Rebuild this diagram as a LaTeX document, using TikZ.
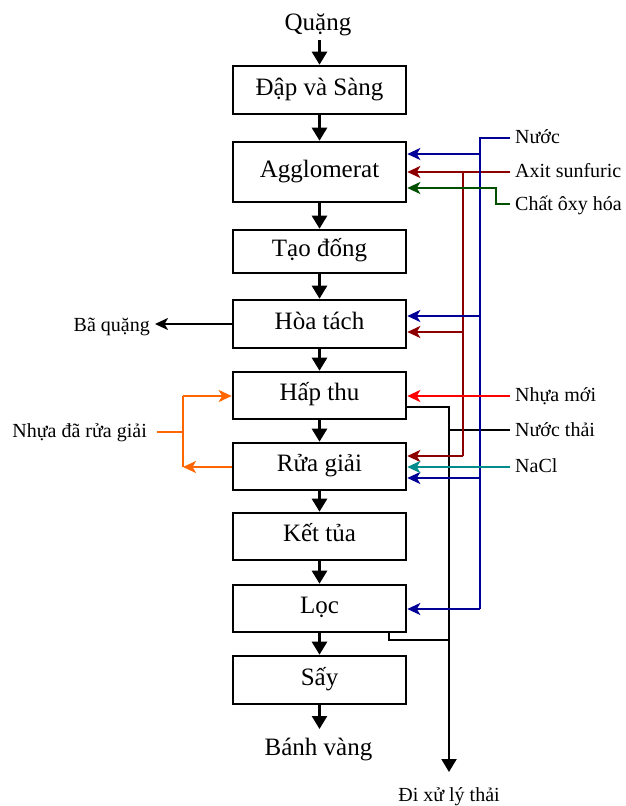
\documentclass[tikz,border=0pt]{standalone}
\usepackage{fontspec}
\setmainfont{Liberation Serif}
\usetikzlibrary{arrows.meta}
\definecolor{cNuoc}{RGB}{0,0,150}
\definecolor{cAxit}{RGB}{140,0,0}
\definecolor{cOxy}{RGB}{0,80,0}
\definecolor{cNhua}{RGB}{255,0,0}
\definecolor{cNaCl}{RGB}{0,140,140}
\definecolor{cCam}{RGB}{255,102,0}
\begin{document}
\begin{tikzpicture}[x=1pt,y=-1pt,
  box/.style={draw,line width=2.6pt,minimum width=173pt,inner sep=0pt,
    font=\fontsize{25}{28}\selectfont,text height=15pt,text depth=5pt},
  big/.style={font=\fontsize{25}{28}\selectfont,inner sep=2pt},
  lab/.style={font=\fontsize{20}{24}\selectfont,inner sep=2pt},
  flow/.style={line width=2.6pt,-{Triangle[length=13pt,width=15pt]}},
  feed/.style={line width=2.2pt,-{Stealth[length=13pt,width=12pt,inset=3.5pt]}},
  ln/.style={line width=2.2pt}]
\useasboundingbox (0,0) rectangle (626,806);

% main boxes
\node[box,minimum height=48pt] (b1) at (319.5,90) {Đập và Sàng};
\node[box,minimum height=60pt] (b2) at (319.5,172) {Agglomerat};
\node[box,minimum height=43pt] (b3) at (319.5,251.5) {Tạo đống};
\node[box,minimum height=48pt] (b4) at (319.5,324) {Hòa tách};
\node[box,minimum height=47pt] (b5) at (319.5,395.5) {Hấp thu};
\node[box,minimum height=47pt] (b6) at (319.5,466.5) {Rửa giải};
\node[box,minimum height=47pt] (b7) at (319.5,536.5) {Kết tủa};
\node[box,minimum height=47pt] (b8) at (319.5,608.5) {Lọc};
\node[box,minimum height=48pt] (b9) at (319.5,680) {Sấy};

% top / bottom texts
\node[big,anchor=base] (q) at (318,30) {Quặng};
\node[big,anchor=base] (bv) at (318.5,755) {Bánh vàng};

% side labels
\node[lab,anchor=base west] (nuoc) at (513,143) {Nước};
\node[lab,anchor=base west] (axit) at (513,177) {Axit sunfuric};
\node[lab,anchor=base west] (oxy) at (513,210) {Chất ôxy hóa};
\node[lab,anchor=base west] (nm) at (513,401) {Nhựa mới};
\node[lab,anchor=base west] (nt) at (513,436) {Nước thải};
\node[lab,anchor=base west] (nacl) at (513,472) {NaCl};
\node[lab,anchor=base east] (bq) at (152,331) {Bã quặng};
\node[lab,anchor=base east] (nd) at (149,437) {Nhựa đã rửa giải};
\node[lab,anchor=base] (dx) at (449,801) {Đi xử lý thải};

% junction coordinates
\coordinate (nuocE) at (510,138);
\coordinate (axitE) at (510,172);
\coordinate (oxyE) at (510,204);
\coordinate (nmE) at (510,396);
\coordinate (ntE) at (510,430);
\coordinate (naclE) at (510,467);
\coordinate (ndE) at (157,432);

% main flow
\draw[flow] (b1.north |- 0,40) -- (b1.north);
\draw[flow] (b1) -- (b2);
\draw[flow] (b2) -- (b3);
\draw[flow] (b3) -- (b4);
\draw[flow] (b4) -- (b5);
\draw[flow] (b5) -- (b6);
\draw[flow] (b6) -- (b7);
\draw[flow] (b7) -- (b8);
\draw[flow] (b8) -- (b9);
\draw[flow] (b9.south) -- (b9.south |- 0,729);

% waste line (black)
\draw[ln] (b5.east |- 0,407) -- (449,407) -- (449,640);
\draw[flow,line width=2.2pt] (449,640) -- (449,772);
\draw[ln] (ntE) -- (449,430);
\draw[ln] (b8.south -| 389,0) -- (389,640) -- (449,640);

% dark red: sulfuric acid
\draw[ln,cAxit] (463,172) -- (463,456);
\draw[feed,cAxit] (axitE) -- (b2.east |- 0,172);
\draw[feed,cAxit] (463,332) -- (b4.east |- 0,332);
\draw[feed,cAxit] (463,456) -- (b6.east |- 0,456);

% blue: water
\draw[ln,cNuoc] (nuocE) -- (480,138) -- (480,609);
\draw[feed,cNuoc] (480,154) -- (b2.east |- 0,154);
\draw[feed,cNuoc] (480,316) -- (b4.east |- 0,316);
\draw[feed,cNuoc] (480,478) -- (b6.east |- 0,478);
\draw[feed,cNuoc] (480,609) -- (b8.east |- 0,609);

% green: oxidiser
\draw[feed,cOxy] (oxyE) -- (496,204) -- (496,188) -- (b2.east |- 0,188);

% red: new resin
\draw[feed,cNhua] (nmE) -- (b5.east |- 0,396);

% teal: NaCl
\draw[feed,cNaCl] (naclE) -- (b6.east |- 0,467);

% tailings
\draw[feed] (b4.west |- 0,324) -- (155,324);

% orange: eluted resin
\draw[ln,cCam] (ndE) -- (183,432);
\draw[feed,cCam] (b6.west |- 0,467) -- (183,467);
\draw[ln,cCam] (183,467) -- (183,396);
\draw[feed,cCam] (183,396) -- (b5.west |- 0,396);
\end{tikzpicture}
\end{document}
